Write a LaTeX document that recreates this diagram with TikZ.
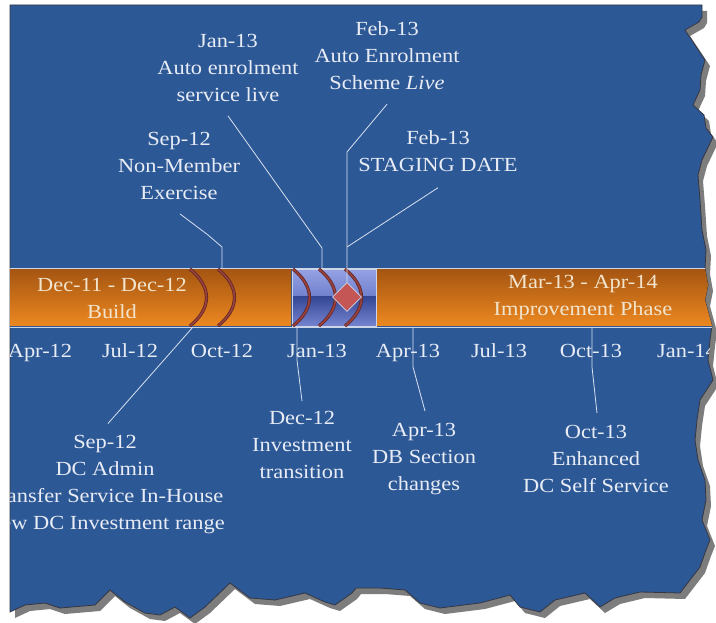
\documentclass[tikz,border=0pt]{standalone}
\usepackage{fontspec}
\setmainfont[FakeStretch=1.12]{Liberation Serif}
\usetikzlibrary{positioning,shapes.geometric}

\definecolor{sheetblue}{RGB}{45,88,150}
\definecolor{sheetedge}{RGB}{55,55,65}
\definecolor{tornshadow}{RGB}{125,125,125}
\definecolor{labelwhite}{RGB}{232,236,245}
\definecolor{leadwhite}{RGB}{215,225,240}
\definecolor{barline}{RGB}{205,214,232}
\definecolor{buildtop}{RGB}{165,85,18}
\definecolor{buildbottom}{RGB}{236,136,32}
\definecolor{glasstop}{RGB}{150,162,228}
\definecolor{glassupper}{RGB}{112,128,205}
\definecolor{glassmid}{RGB}{52,72,150}
\definecolor{glassbottom}{RGB}{118,132,208}
\definecolor{arcbrown}{RGB}{150,65,60}
\definecolor{arcdark}{RGB}{95,35,35}
\definecolor{stagered}{RGB}{196,86,86}
\definecolor{bartext}{RGB}{242,228,205}

\newcommand{\tornsheet}[1]{\path [#1] (10,5) -- (702,5) -- (702,17) -- (699,22) -- (685,30) -- (695,45) -- (705,60) -- (701,75) -- (700,90) -- (693,105) -- (704,115) -- (706,128) -- (713,137) -- (702,160) -- (698,175) -- (700,200) -- (702,230) -- (706,250) -- (705,268) -- (708,285) -- (705,300) -- (712,326) -- (710,340) -- (708,360) -- (713,380) -- (700,400) -- (697,420) -- (695,440) -- (698,460) -- (705,480) -- (706,500) -- (702,520) -- (710,540) -- (706,550) -- (700,567) -- (690,580) -- (680,593) -- (640,592) -- (615,598) -- (600,607) -- (585,593) -- (555,600) -- (540,612) -- (520,607) -- (510,595) -- (480,603) -- (440,608) -- (420,603) -- (405,590) -- (380,588) -- (356,588) -- (352,593) -- (335,605) -- (325,602) -- (305,593) -- (275,600) -- (250,598) -- (230,583) -- (205,607) -- (190,618) -- (175,607) -- (160,615) -- (145,613) -- (125,602) -- (110,590) -- (95,605) -- (60,608) -- (45,603) -- (25,605) -- (10,612) -- cycle;}

\begin{document}
\begin{tikzpicture}[x=1pt, y=-1pt,
	lbl/.style={text=labelwhite, align=center, inner sep=0pt, font=\fontsize{20}{27}\selectfont},
	bartxt/.style={lbl, text=bartext},
	tick/.style={lbl, anchor=base},
	lead/.style={draw=leadwhite, line width=0.8pt},
	arcmark/.style={draw=arcdark, double=arcbrown, line width=0.7pt, double distance=1.8pt}]
	\fill [white] (0,0) rectangle (716,623);
	\useasboundingbox (0,0) rectangle (716,623);
	\tornsheet{fill=tornshadow, shift={(5,6)}}
	\tornsheet{fill=sheetblue, draw=sheetedge, line width=0.8pt}
	\begin{scope}
		\tornsheet{clip}
		\shade [top color=buildtop, bottom color=buildbottom] (10,269) rectangle (291,326);
		\shade [top color=glasstop, bottom color=glassupper] (292,269) rectangle (376,297);
		\shade [top color=glassmid, bottom color=glassbottom] (292,297) rectangle (376,326);
		\draw [barline, line width=0.8pt] (292,269) rectangle (376,326);
		\shade [top color=buildtop, bottom color=buildbottom] (377,269) rectangle (716,326);
		\draw [barline, line width=0.8pt] (10,268) -- (716,268);
		\draw [barline, line width=0.8pt] (10,327) -- (716,327);
		\node [bartxt] (build) at (112,298) {Dec-11 - Dec-12\\Build};
		\node [bartxt] (improve) at (583,298) {Mar-13 - Apr-14\\Improvement Phase};
		\foreach \mx/\mlab in {40/Apr-12, 130/Jul-12, 222/Oct-12, 317/Jan-13, 408/Apr-13, 499/Jul-13, 591/Oct-13, 687/Jan-14}
			\node [tick] (m\mx) at (\mx,357) {\mlab};
		\node [lbl] (dcadmin) at (105,485) {Sep-12\\DC Admin\\Transfer Service In-House\\New DC Investment range};
	\end{scope}
	\foreach \ax in {190,218,293,319,345}
		\draw [arcmark] (\ax,269) .. controls +(22,18) and +(22,-18) .. (\ax,326);
	\node [diamond, fill=stagered, draw=barline, line width=0.6pt, inner sep=0pt, minimum width=29, minimum height=29] (stagemark) at (347,297) {};

	\node [lbl] (jan) at (228,68) {Jan-13\\Auto enrolment\\service live};
	\node [lbl] (sep) at (179,166) {Sep-12\\Non-Member\\Exercise};
	\node [lbl] (feb) at (387,56) {Feb-13\\Auto Enrolment\\Scheme \textit{Live}};
	\node [lbl] (stage) at (438,151) {Feb-13\\STAGING DATE};
	\node [lbl] (dec) at (302,445) {Dec-12\\Investment\\transition};
	\node [lbl] (apr) at (424,459) {Apr-13\\DB Section\\changes};
	\node [lbl] (oct) at (596,459) {Oct-13\\Enhanced\\DC Self Service};

	\coordinate (sepBendA) at (208,235);
	\coordinate (sepBendB) at (222,247);
	\coordinate (sepFoot) at (222,268);
	\coordinate (janBend) at (322,248);
	\coordinate (janFoot) at (322,268);
	\coordinate (febBend) at (347,152);
	\coordinate (febJoin) at (347,247);
	\coordinate (adminFoot) at (193,327);
	\coordinate (decFoot) at (297,327);
	\coordinate (decBend) at (297,360);
	\coordinate (aprFoot) at (413,327);
	\coordinate (aprBend) at (413,367);
	\coordinate (octFoot) at (592,327);
	\coordinate (octBend) at (592,367);

	\draw [lead] ([shift={(1,14)}]sep.south) -- (sepBendA) -- (sepBendB) -- (sepFoot);
	\draw [lead] ([shift={(0,14)}]jan.south) -- (janBend) -- (janFoot);
	\draw [lead] ([shift={(0,14)}]feb.south) -- (febBend) -- (stagemark.north);
	\draw [lead] ([shift={(0,16)}]stage.south) -- (febJoin);
	\draw [lead] (adminFoot) -- ([shift={(3,-12)}]dcadmin.north);
	\draw [lead] (decFoot) -- (decBend) -- ([shift={(0,-10)}]dec.north);
	\draw [lead] (aprFoot) -- (aprBend) -- ([shift={(1,-12)}]apr.north);
	\draw [lead] (octFoot) -- (octBend) -- ([shift={(1,-12)}]oct.north);
\end{tikzpicture}
\end{document}
